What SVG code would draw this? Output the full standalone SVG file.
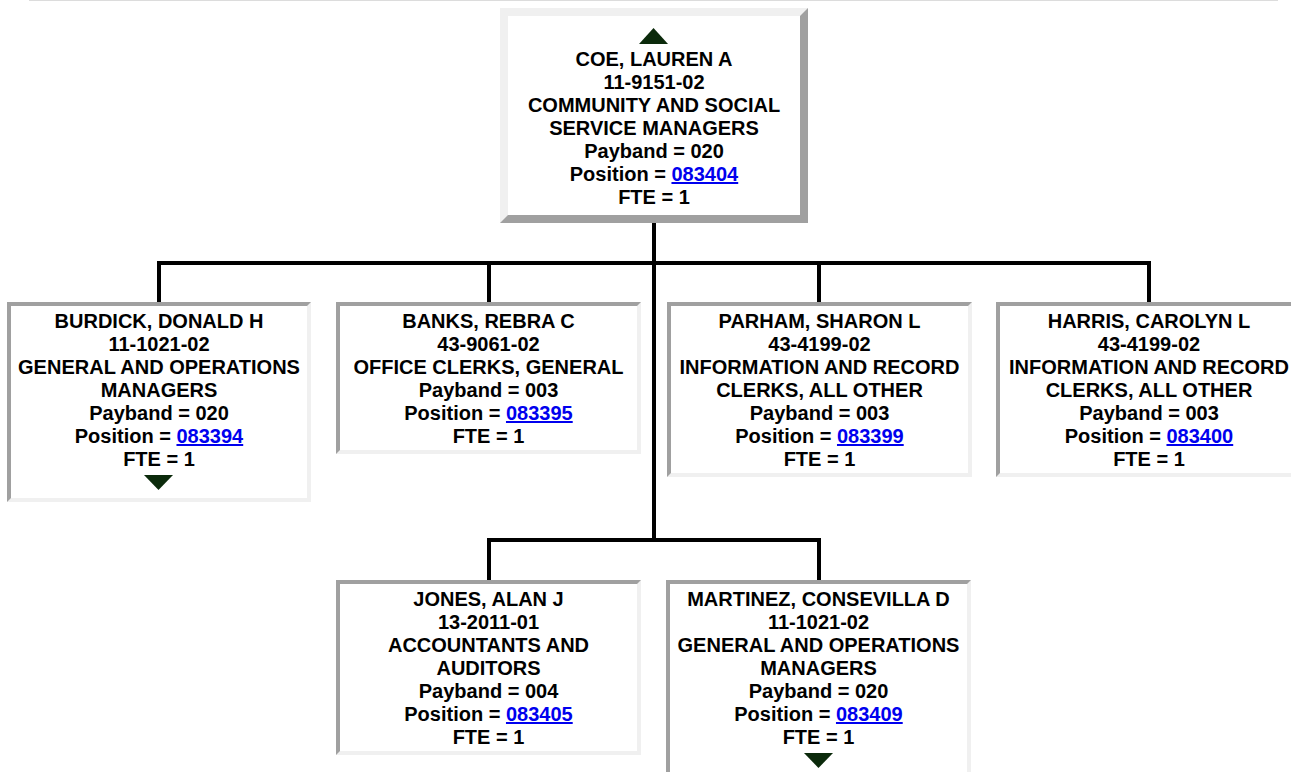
<svg xmlns="http://www.w3.org/2000/svg" width="1291" height="772" viewBox="0 0 1291 772">
<defs>
<style>
text{font-family:"Liberation Sans",Arial,Helvetica,sans-serif;font-weight:bold;font-size:20px;fill:#000;text-anchor:middle}
.lk{fill:#0000ee;text-decoration:underline}
.dk{fill:#a0a0a0}
.lt{fill:#f0f0f0}
.bg{fill:#fff}
.conn{stroke:#000;stroke-width:4;fill:none;stroke-linecap:square}
.arr{fill:#0b2a0b}
</style>
</defs>
<rect width="1291" height="772" fill="#fff"/>
<rect x="29" y="0" width="1249" height="1" fill="#dcdcdc"/>

<g id="connectors">
<path class="conn" d="M654 224V540M159 263H1149M159 263V302M489 263V302M819 263V302M1149 263V302M489 540H819M489 540V580M819 540V580"/>
</g>

<g id="coe">
<rect x="500" y="8" width="308" height="215" class="lt"/>
<polygon class="dk" points="808,8 808,223 500,223 508,215 800,215 800,16"/>
<rect x="508" y="16" width="292" height="199" class="bg"/>
<polygon class="arr" points="653.5,28 668,44 639,44"/>
<text x="654" y="66">COE, LAUREN A</text>
<text x="654" y="89">11-9151-02</text>
<text x="654" y="112">COMMUNITY AND SOCIAL</text>
<text x="654" y="135">SERVICE MANAGERS</text>
<text x="654" y="158">Payband = 020</text>
<text x="654" y="181">Position = <tspan class="lk">083404</tspan></text>
<text x="654" y="204">FTE = 1</text>
</g>

<g id="burdick">
<rect x="7" y="302" width="304" height="200" class="lt"/>
<polygon class="dk" points="7,302 311,302 307,306 11,306 11,498 7,502"/>
<rect x="11" y="306" width="296" height="192" class="bg"/>
<text x="159" y="328">BURDICK, DONALD H</text>
<text x="159" y="351">11-1021-02</text>
<text x="159" y="374">GENERAL AND OPERATIONS</text>
<text x="159" y="397">MANAGERS</text>
<text x="159" y="420">Payband = 020</text>
<text x="159" y="443">Position = <tspan class="lk">083394</tspan></text>
<text x="159" y="466">FTE = 1</text>
<polygon class="arr" points="144,475 173,475 158.5,490"/>
</g>

<g id="banks">
<rect x="336" y="302" width="305" height="152" class="lt"/>
<polygon class="dk" points="336,302 641,302 637,306 340,306 340,450 336,454"/>
<rect x="340" y="306" width="297" height="144" class="bg"/>
<text x="488.5" y="328">BANKS, REBRA C</text>
<text x="488.5" y="351">43-9061-02</text>
<text x="488.5" y="374">OFFICE CLERKS, GENERAL</text>
<text x="488.5" y="397">Payband = 003</text>
<text x="488.5" y="420">Position = <tspan class="lk">083395</tspan></text>
<text x="488.5" y="443">FTE = 1</text>
</g>

<g id="parham">
<rect x="667" y="302" width="305" height="175" class="lt"/>
<polygon class="dk" points="667,302 972,302 968,306 671,306 671,473 667,477"/>
<rect x="671" y="306" width="297" height="167" class="bg"/>
<text x="819.5" y="328">PARHAM, SHARON L</text>
<text x="819.5" y="351">43-4199-02</text>
<text x="819.5" y="374">INFORMATION AND RECORD</text>
<text x="819.5" y="397">CLERKS, ALL OTHER</text>
<text x="819.5" y="420">Payband = 003</text>
<text x="819.5" y="443">Position = <tspan class="lk">083399</tspan></text>
<text x="819.5" y="466">FTE = 1</text>
</g>

<g id="harris">
<rect x="996" y="302" width="306" height="175" class="lt"/>
<polygon class="dk" points="996,302 1302,302 1298,306 1000,306 1000,473 996,477"/>
<rect x="1000" y="306" width="298" height="167" class="bg"/>
<text x="1149" y="328">HARRIS, CAROLYN L</text>
<text x="1149" y="351">43-4199-02</text>
<text x="1149" y="374">INFORMATION AND RECORD</text>
<text x="1149" y="397">CLERKS, ALL OTHER</text>
<text x="1149" y="420">Payband = 003</text>
<text x="1149" y="443">Position = <tspan class="lk">083400</tspan></text>
<text x="1149" y="466">FTE = 1</text>
</g>

<g id="jones">
<rect x="336" y="580" width="305" height="175" class="lt"/>
<polygon class="dk" points="336,580 641,580 637,584 340,584 340,751 336,755"/>
<rect x="340" y="584" width="297" height="167" class="bg"/>
<text x="488.5" y="606">JONES, ALAN J</text>
<text x="488.5" y="629">13-2011-01</text>
<text x="488.5" y="652">ACCOUNTANTS AND</text>
<text x="488.5" y="675">AUDITORS</text>
<text x="488.5" y="698">Payband = 004</text>
<text x="488.5" y="721">Position = <tspan class="lk">083405</tspan></text>
<text x="488.5" y="744">FTE = 1</text>
</g>

<g id="martinez">
<rect x="666" y="580" width="305" height="200" class="lt"/>
<polygon class="dk" points="666,580 971,580 967,584 670,584 670,776 666,780"/>
<rect x="670" y="584" width="297" height="192" class="bg"/>
<text x="818.5" y="606">MARTINEZ, CONSEVILLA D</text>
<text x="818.5" y="629">11-1021-02</text>
<text x="818.5" y="652">GENERAL AND OPERATIONS</text>
<text x="818.5" y="675">MANAGERS</text>
<text x="818.5" y="698">Payband = 020</text>
<text x="818.5" y="721">Position = <tspan class="lk">083409</tspan></text>
<text x="818.5" y="744">FTE = 1</text>
<polygon class="arr" points="804,753 833,753 818.5,768"/>
</g>
</svg>
